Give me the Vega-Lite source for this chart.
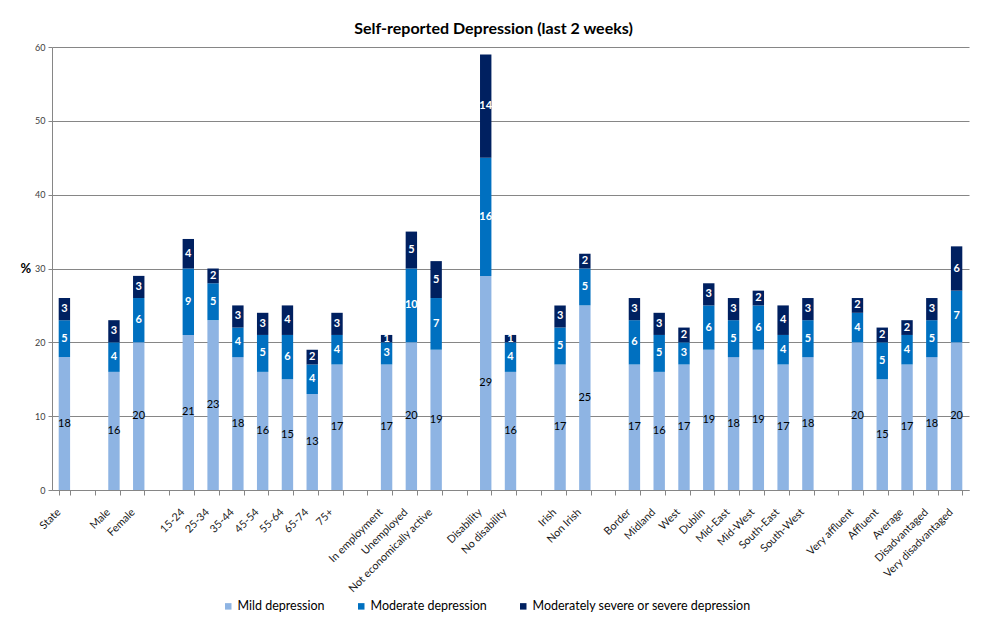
{
  "$schema": "https://vega.github.io/schema/vega-lite/v6.json",
  "width": 917,
  "height": 443,
  "autosize": {"type": "none"},
  "padding": {"left": 52, "top": 47, "right": 17, "bottom": 135},
  "background": "white",
  "config": {"view": {"stroke": null}, "font": "Lato"},
  "title": {"text": "Self-reported Depression (last 2 weeks)", "font": "Lato", "fontSize": 16, "fontWeight": "bold", "color": "#000000", "anchor": "middle", "dx": -17, "offset": 6},
  "data": {"values": [
    {"category": "State", "series": "Mild depression", "value": 18},
    {"category": "State", "series": "Moderate depression", "value": 5},
    {"category": "State", "series": "Moderately severe or severe depression", "value": 3},
    {"category": "Male", "series": "Mild depression", "value": 16},
    {"category": "Male", "series": "Moderate depression", "value": 4},
    {"category": "Male", "series": "Moderately severe or severe depression", "value": 3},
    {"category": "Female", "series": "Mild depression", "value": 20},
    {"category": "Female", "series": "Moderate depression", "value": 6},
    {"category": "Female", "series": "Moderately severe or severe depression", "value": 3},
    {"category": "15-24", "series": "Mild depression", "value": 21},
    {"category": "15-24", "series": "Moderate depression", "value": 9},
    {"category": "15-24", "series": "Moderately severe or severe depression", "value": 4},
    {"category": "25-34", "series": "Mild depression", "value": 23},
    {"category": "25-34", "series": "Moderate depression", "value": 5},
    {"category": "25-34", "series": "Moderately severe or severe depression", "value": 2},
    {"category": "35-44", "series": "Mild depression", "value": 18},
    {"category": "35-44", "series": "Moderate depression", "value": 4},
    {"category": "35-44", "series": "Moderately severe or severe depression", "value": 3},
    {"category": "45-54", "series": "Mild depression", "value": 16},
    {"category": "45-54", "series": "Moderate depression", "value": 5},
    {"category": "45-54", "series": "Moderately severe or severe depression", "value": 3},
    {"category": "55-64", "series": "Mild depression", "value": 15},
    {"category": "55-64", "series": "Moderate depression", "value": 6},
    {"category": "55-64", "series": "Moderately severe or severe depression", "value": 4},
    {"category": "65-74", "series": "Mild depression", "value": 13},
    {"category": "65-74", "series": "Moderate depression", "value": 4},
    {"category": "65-74", "series": "Moderately severe or severe depression", "value": 2},
    {"category": "75+", "series": "Mild depression", "value": 17},
    {"category": "75+", "series": "Moderate depression", "value": 4},
    {"category": "75+", "series": "Moderately severe or severe depression", "value": 3},
    {"category": "In employment", "series": "Mild depression", "value": 17},
    {"category": "In employment", "series": "Moderate depression", "value": 3},
    {"category": "In employment", "series": "Moderately severe or severe depression", "value": 1},
    {"category": "Unemployed", "series": "Mild depression", "value": 20},
    {"category": "Unemployed", "series": "Moderate depression", "value": 10},
    {"category": "Unemployed", "series": "Moderately severe or severe depression", "value": 5},
    {"category": "Not economically active", "series": "Mild depression", "value": 19},
    {"category": "Not economically active", "series": "Moderate depression", "value": 7},
    {"category": "Not economically active", "series": "Moderately severe or severe depression", "value": 5},
    {"category": "Disability", "series": "Mild depression", "value": 29},
    {"category": "Disability", "series": "Moderate depression", "value": 16},
    {"category": "Disability", "series": "Moderately severe or severe depression", "value": 14},
    {"category": "No disability", "series": "Mild depression", "value": 16},
    {"category": "No disability", "series": "Moderate depression", "value": 4},
    {"category": "No disability", "series": "Moderately severe or severe depression", "value": 1},
    {"category": "Irish", "series": "Mild depression", "value": 17},
    {"category": "Irish", "series": "Moderate depression", "value": 5},
    {"category": "Irish", "series": "Moderately severe or severe depression", "value": 3},
    {"category": "Non Irish", "series": "Mild depression", "value": 25},
    {"category": "Non Irish", "series": "Moderate depression", "value": 5},
    {"category": "Non Irish", "series": "Moderately severe or severe depression", "value": 2},
    {"category": "Border", "series": "Mild depression", "value": 17},
    {"category": "Border", "series": "Moderate depression", "value": 6},
    {"category": "Border", "series": "Moderately severe or severe depression", "value": 3},
    {"category": "Midland", "series": "Mild depression", "value": 16},
    {"category": "Midland", "series": "Moderate depression", "value": 5},
    {"category": "Midland", "series": "Moderately severe or severe depression", "value": 3},
    {"category": "West", "series": "Mild depression", "value": 17},
    {"category": "West", "series": "Moderate depression", "value": 3},
    {"category": "West", "series": "Moderately severe or severe depression", "value": 2},
    {"category": "Dublin", "series": "Mild depression", "value": 19},
    {"category": "Dublin", "series": "Moderate depression", "value": 6},
    {"category": "Dublin", "series": "Moderately severe or severe depression", "value": 3},
    {"category": "Mid-East", "series": "Mild depression", "value": 18},
    {"category": "Mid-East", "series": "Moderate depression", "value": 5},
    {"category": "Mid-East", "series": "Moderately severe or severe depression", "value": 3},
    {"category": "Mid-West", "series": "Mild depression", "value": 19},
    {"category": "Mid-West", "series": "Moderate depression", "value": 6},
    {"category": "Mid-West", "series": "Moderately severe or severe depression", "value": 2},
    {"category": "South-East", "series": "Mild depression", "value": 17},
    {"category": "South-East", "series": "Moderate depression", "value": 4},
    {"category": "South-East", "series": "Moderately severe or severe depression", "value": 4},
    {"category": "South-West", "series": "Mild depression", "value": 18},
    {"category": "South-West", "series": "Moderate depression", "value": 5},
    {"category": "South-West", "series": "Moderately severe or severe depression", "value": 3},
    {"category": "Very affluent", "series": "Mild depression", "value": 20},
    {"category": "Very affluent", "series": "Moderate depression", "value": 4},
    {"category": "Very affluent", "series": "Moderately severe or severe depression", "value": 2},
    {"category": "Affluent", "series": "Mild depression", "value": 15},
    {"category": "Affluent", "series": "Moderate depression", "value": 5},
    {"category": "Affluent", "series": "Moderately severe or severe depression", "value": 2},
    {"category": "Average", "series": "Mild depression", "value": 17},
    {"category": "Average", "series": "Moderate depression", "value": 4},
    {"category": "Average", "series": "Moderately severe or severe depression", "value": 2},
    {"category": "Disadvantaged", "series": "Mild depression", "value": 18},
    {"category": "Disadvantaged", "series": "Moderate depression", "value": 5},
    {"category": "Disadvantaged", "series": "Moderately severe or severe depression", "value": 3},
    {"category": "Very disadvantaged", "series": "Mild depression", "value": 20},
    {"category": "Very disadvantaged", "series": "Moderate depression", "value": 7},
    {"category": "Very disadvantaged", "series": "Moderately severe or severe depression", "value": 6}
  ]},
  "encoding": {
    "x": {
      "field": "category",
      "type": "nominal",
      "scale": {
        "domain": ["State", " ", "Male", "Female", "  ", "15-24", "25-34", "35-44", "45-54", "55-64", "65-74", "75+", "   ", "In employment", "Unemployed", "Not economically active", "    ", "Disability", "No disability", "     ", "Irish", "Non Irish", "      ", "Border", "Midland", "West", "Dublin", "Mid-East", "Mid-West", "South-East", "South-West", "       ", "Very affluent", "Affluent", "Average", "Disadvantaged", "Very disadvantaged"],
        "paddingInner": 0.54,
        "paddingOuter": 0.27
      },
      "axis": {
        "title": null,
        "labelAngle": -45,
        "labelAlign": "right",
        "labelBaseline": "top",
        "labelFont": "Lato",
        "labelFontSize": 10.8,
        "labelColor": "#1a1a1a",
        "labelPadding": 11,
        "labelOffset": -10,
        "labelOverlap": false,
        "tickBand": "extent",
        "tickSize": 5,
        "tickColor": "#868686",
        "domainColor": "#868686",
        "grid": false
      }
    },
    "order": {"field": "series", "type": "nominal", "sort": "ascending"}
  },
  "layer": [
    {
      "mark": {"type": "bar"},
      "encoding": {
        "y": {
          "field": "value",
          "type": "quantitative",
          "stack": "zero",
          "scale": {"domain": [0, 60]},
          "axis": {
            "title": "%",
            "titleAngle": 0,
            "titleFont": "Lato",
            "titleFontSize": 13,
            "titleFontWeight": "bold",
            "titleColor": "#000000",
            "titleAlign": "right",
            "titleBaseline": "middle",
            "titlePadding": 4,
            "values": [0, 10, 20, 30, 40, 50, 60],
            "labelFont": "Lato",
            "labelFontSize": 9,
            "labelColor": "#404040",
            "labelPadding": 3,
            "tickSize": 4,
            "tickColor": "#868686",
            "domainColor": "#868686",
            "gridColor": "#868686",
            "gridWidth": 1
          }
        },
        "color": {
          "field": "series",
          "type": "nominal",
          "sort": ["Mild depression", "Moderate depression", "Moderately severe or severe depression"],
          "scale": {
            "domain": ["Mild depression", "Moderate depression", "Moderately severe or severe depression"],
            "range": ["#8EB4E3", "#0070C0", "#002060"]
          },
          "legend": {
            "title": null,
            "orient": "none",
            "legendX": 170,
            "legendY": 553,
            "direction": "horizontal",
            "symbolType": "square",
            "symbolSize": 42,
            "symbolStrokeWidth": 0,
            "labelFont": "Lato",
            "labelFontSize": 12.5,
            "labelColor": "#000000",
            "labelOffset": 3,
            "labelLimit": 0,
            "columnPadding": 30
          }
        }
      }
    },
    {
      "mark": {"type": "text", "font": "Lato", "fontSize": 11, "baseline": "middle", "align": "center"},
      "encoding": {
        "y": {"field": "value", "type": "quantitative", "stack": "zero", "bandPosition": 0.5},
        "detail": {"field": "series"},
        "text": {"field": "value", "type": "quantitative"},
        "color": {"value": "#000000"},
        "opacity": {"condition": {"test": "datum.series === 'Mild depression'", "value": 1}, "value": 0}
      }
    },
    {
      "mark": {"type": "text", "font": "Lato", "fontSize": 11, "fontWeight": "bold", "baseline": "middle", "align": "center"},
      "encoding": {
        "y": {"field": "value", "type": "quantitative", "stack": "zero", "bandPosition": 0.5},
        "detail": {"field": "series"},
        "text": {"field": "value", "type": "quantitative"},
        "color": {"value": "#FFFFFF"},
        "opacity": {"condition": {"test": "datum.series === 'Mild depression'", "value": 0}, "value": 1}
      }
    }
  ]
}
